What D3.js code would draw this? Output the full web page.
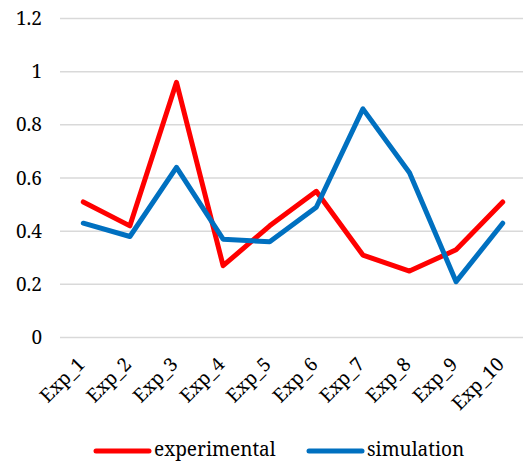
<!DOCTYPE html>
<html>
<head>
<meta charset="utf-8">
<script src="https://cdn.jsdelivr.net/npm/d3@7"></script>
<style>
  html, body { margin: 0; padding: 0; background: #fff; }
  svg { display: block; }
  svg text { font-family: "Noto Serif", "DejaVu Serif", serif; }
</style>
</head>
<body>
<svg id="chart" width="526" height="465"></svg>
<script>
const categories = ["Exp_1", "Exp_2", "Exp_3", "Exp_4", "Exp_5", "Exp_6", "Exp_7", "Exp_8", "Exp_9", "Exp_10"];
const experimental = [0.51, 0.42, 0.96, 0.27, 0.42, 0.55, 0.31, 0.25, 0.33, 0.51];
const simulation = [0.43, 0.38, 0.64, 0.37, 0.36, 0.49, 0.86, 0.62, 0.21, 0.43];
const yTicks = [0, 0.2, 0.4, 0.6, 0.8, 1, 1.2];
const seriesNames = ["experimental", "simulation"];
const seriesColors = ["#FF0000", "#0070C0"];

const svg = d3.select("#chart");
const margin = { left: 60, right: 0, top: 18.5, bottom: 127.5 };
const W = 526, H = 465;

const x = d3.scaleBand().domain(categories).range([margin.left, W - margin.right]);
const y = d3.scaleLinear().domain([0, 1.2]).range([H - margin.bottom, margin.top]);

// horizontal gridlines
svg.append("g").selectAll("line").data(yTicks).join("line")
  .attr("x1", margin.left).attr("x2", W - 3)
  .attr("y1", d => y(d)).attr("y2", d => y(d))
  .attr("stroke", "#d9d9d9").attr("stroke-width", 1.5);

// y axis labels
const yAxis = d3.axisLeft(y).tickValues(yTicks).tickSize(0).tickPadding(0)
  .tickFormat(d => String(d));
const gy = svg.append("g").attr("transform", `translate(42,0)`).call(yAxis);
gy.select(".domain").remove();
gy.selectAll("text").attr("font-size", 19).attr("fill", "#000");

// x axis labels, rotated 45 degrees
const xAxis = d3.axisBottom(x).tickSize(0).tickPadding(0);
const gx = svg.append("g").attr("transform", `translate(0,${y(0)})`).call(xAxis);
gx.select(".domain").remove();
gx.selectAll("text")
  .attr("font-size", 19).attr("fill", "#000")
  .attr("text-anchor", "end")
  .attr("dy", null).attr("y", 0)
  .attr("transform", "translate(-1,24.5) rotate(-45)")
  .attr("dominant-baseline", "middle");

// series lines
const line = d3.line()
  .x((d, i) => x(categories[i]) + x.bandwidth() / 2)
  .y(d => y(d));

[experimental, simulation].forEach((vals, k) => {
  svg.append("path").datum(vals)
    .attr("d", line)
    .attr("fill", "none")
    .attr("stroke", seriesColors[k])
    .attr("stroke-width", 5)
    .attr("stroke-linejoin", "round")
    .attr("stroke-linecap", "round");
});

// legend
const legendItems = [
  { name: seriesNames[0], color: seriesColors[0], x: 96 },
  { name: seriesNames[1], color: seriesColors[1], x: 309 }
];
const ly = 451;
const lg = svg.append("g");
legendItems.forEach(it => {
  lg.append("line")
    .attr("x1", it.x).attr("x2", it.x + 53)
    .attr("y1", ly).attr("y2", ly)
    .attr("stroke", it.color).attr("stroke-width", 5)
    .attr("stroke-linecap", "round");
  lg.append("text")
    .attr("x", it.x + 58).attr("y", ly)
    .attr("dominant-baseline", "middle")
    .attr("font-size", 19).attr("fill", "#000")
    .text(it.name);
});
</script>
</body>
</html>
